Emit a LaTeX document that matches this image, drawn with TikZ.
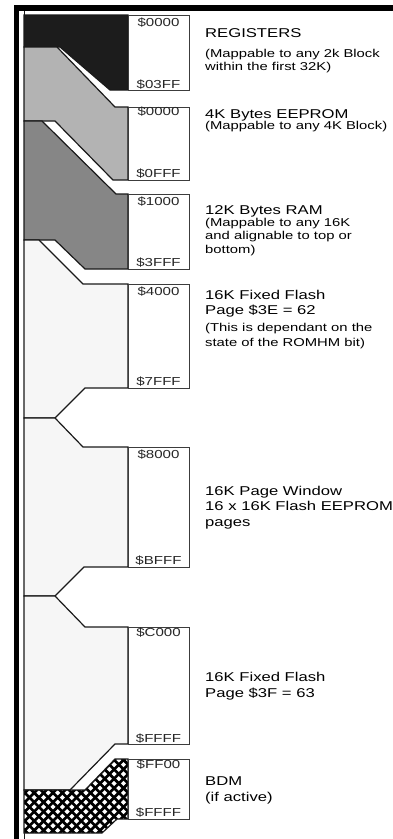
\documentclass[tikz,border=0pt]{standalone}
\usepackage{fontspec}
\newfontfamily\af[FakeStretch=1.3]{Liberation Sans}
\definecolor{regc}{HTML}{1C1C1C}
\definecolor{eepc}{HTML}{B3B3B3}
\definecolor{ramc}{HTML}{868686}
\definecolor{flc}{HTML}{F6F6F6}
\definecolor{edgec}{HTML}{1A1A1A}
\tikzset{
  blk/.style={draw=edgec, line width=1.2pt, line join=miter},
  addrbox/.style={draw=edgec!85, fill=white, line width=1pt},
  mainlbl/.style={anchor=base west, inner sep=0pt, font=\af\fontsize{12.8}{15}\selectfont},
  sublbl/.style={anchor=base west, inner sep=0pt, font=\af\fontsize{11.4}{13}\selectfont},
  addr/.style={anchor=base, inner sep=0pt, text=black!85, font=\af\fontsize{11.6}{13}\selectfont},
  hatchline/.style={line width=2.7pt, black}
}
\begin{document}
\begin{tikzpicture}[x=1pt, y=-1pt]
\useasboundingbox (0,0) rectangle (393,839);
% page frame
\fill[black] (14,5) rectangle (393,11);
\fill[black] (14,5) rectangle (19,839);
\draw[edgec, line width=1pt] (24,11) -- (24,839);
% registers
\filldraw[blk, fill=regc] (24,15) -- (128,15) -- (128,90) -- (110,90) -- (60,47) -- (24,47) -- cycle;
% eeprom
\filldraw[blk, fill=eepc] (24,47) -- (57,47) -- (115,107) -- (128,107) -- (128,180) -- (113,180) -- (55,121) -- (24,121) -- cycle;
% ram
\filldraw[blk, fill=ramc] (24,121) -- (42,121) -- (116,194) -- (128,194) -- (128,269) -- (85,269) -- (55,240) -- (24,240) -- cycle;
% flash pages
\filldraw[blk, fill=flc] (24,240) -- (39,240) -- (83,284) -- (128,284) -- (128,388) -- (85,388) -- (55,418) -- (24,418) -- cycle;
\filldraw[blk, fill=flc] (24,418) -- (55,418) -- (83,447) -- (128,447) -- (128,567) -- (84,567) -- (55,596) -- (24,596) -- cycle;
\filldraw[blk, fill=flc] (24,596) -- (55,596) -- (85,627) -- (128,627) -- (128,744) -- (115,744) -- (70,790) -- (24,790) -- cycle;
% BDM hatched
\begin{scope}
  \clip (24,790) -- (85,790) -- (115,759) -- (128,759) -- (128,819) -- (117,819) -- (102,833) -- (24,833) -- cycle;
  \fill[white] (20,750) rectangle (135,840);
  \foreach \i in {0,...,22} {
    \pgfmathsetmacro\c{-815+9.4*\i}
    \draw[hatchline] (\c+740,740) -- (\c+850,850);
    \pgfmathsetmacro\d{780+9.4*\i}
    \draw[hatchline] (\d-740,740) -- (\d-850,850);
  }
\end{scope}
\draw[blk] (24,790) -- (85,790) -- (115,759) -- (128,759) -- (128,819) -- (117,819) -- (102,833) -- (24,833) -- cycle;
% address boxes
\draw[addrbox] (128,15) rectangle (189,90);
\draw[addrbox] (128,107) rectangle (189,180);
\draw[addrbox] (128,194) rectangle (189,269);
\draw[addrbox] (128,284) rectangle (189,388);
\draw[addrbox] (128,447) rectangle (189,567);
\draw[addrbox] (128,627) rectangle (189,744);
\draw[addrbox] (128,759) rectangle (189,819);
% address labels
\node[addr] (a1t) at (158.5,26) {\$0000};
\node[addr] (a1b) at (158.5,88) {\$03FF};
\node[addr] (a2t) at (158.5,115.5) {\$0000};
\node[addr] (a2b) at (158.5,177.5) {\$0FFF};
\node[addr] (a3t) at (158.5,205) {\$1000};
\node[addr] (a3b) at (158.5,266.5) {\$3FFF};
\node[addr] (a4t) at (158.5,295) {\$4000};
\node[addr] (a4b) at (158.5,385) {\$7FFF};
\node[addr] (a5t) at (158.5,458) {\$8000};
\node[addr] (a5b) at (158.5,564) {\$BFFF};
\node[addr] (a6t) at (158.5,636.5) {\$C000};
\node[addr] (a6b) at (158.5,742) {\$FFFF};
\node[addr] (a7t) at (158.5,768.5) {\$FF00};
\node[addr] (a7b) at (158.5,816.5) {\$FFFF};
% descriptions
\node[mainlbl] (l1a) at (205,37) {REGISTERS};
\node[sublbl] (l1b) at (205,57.5) {(Mappable to any 2k Block};
\node[sublbl] (l1c) at (205,70.5) {within the first 32K)};
\node[mainlbl] (l2a) at (205,118) {4K Bytes EEPROM};
\node[sublbl] (l2b) at (205,129.5) {(Mappable to any 4K Block)};
\node[mainlbl] (l3a) at (205,214) {12K Bytes RAM};
\node[sublbl] (l3b) at (205,226) {(Mappable to any 16K};
\node[sublbl] (l3c) at (205,239.5) {and alignable to top or};
\node[sublbl] (l3d) at (205,253) {bottom)};
\node[mainlbl] (l4a) at (205,299) {16K Fixed Flash};
\node[mainlbl] (l4b) at (205,314) {Page \$3E = 62};
\node[sublbl] (l4c) at (205,331.5) {(This is dependant on the};
\node[sublbl] (l4d) at (205,346) {state of the ROMHM bit)};
\node[mainlbl] (l5a) at (205,495) {16K Page Window};
\node[mainlbl] (l5b) at (205,510.5) {16 x 16K Flash EEPROM};
\node[mainlbl] (l5c) at (205,526) {pages};
\node[mainlbl] (l6a) at (205,681.5) {16K Fixed Flash};
\node[mainlbl] (l6b) at (205,697) {Page \$3F = 63};
\node[mainlbl] (l7a) at (205,785) {BDM};
\node[mainlbl] (l7b) at (205,801) {(if active)};
\end{tikzpicture}
\end{document}
